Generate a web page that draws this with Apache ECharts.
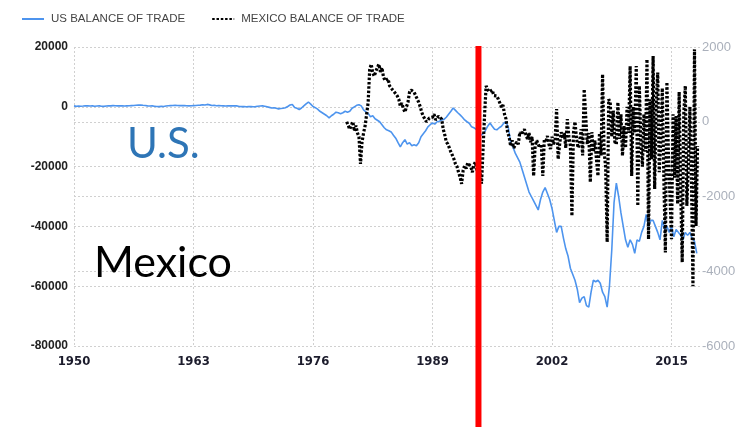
<!DOCTYPE html>
<html>
<head>
<meta charset="utf-8">
<script src="https://cdn.jsdelivr.net/npm/echarts@6/dist/echarts.min.js"></script>
<style>
html,body{margin:0;padding:0;background:#fff;}
#chart{width:746px;height:427px;}
</style>
</head>
<body>
<div id="chart"></div>
<script>
// ---- DATA ----
const xTickLabels = [1950, 1963, 1976, 1989, 2002, 2015];
const leftTicks = [-80000, -60000, -40000, -20000, 0, 20000];
const rightTicks = [-6000, -4000, -2000, 0, 2000];
const seriesNames = ['US BALANCE OF TRADE', 'MEXICO BALANCE OF TRADE'];
const annotationLabels = ['U.S.', 'Mexico'];
const naftaYear = 1994;

// US balance of trade (USD million), quarterly samples starting 1950
const usStartYear = 1950;
const usPerYear = 4;
const usValues = [
  300, 150, 250, 200,        // 1950
  250, 350, 300, 250,        // 1951
  300, 200, 250, 300,        // 1952
  200, 150, 250, 300,        // 1953
  300, 400, 350, 300,        // 1954
  350, 300, 250, 300,        // 1955
  350, 400, 450, 500,        // 1956
  550, 600, 500, 450,        // 1957
  300, 250, 300, 200,        // 1958
  100, 50, 150, 100,         // 1959
  250, 350, 400, 450,        // 1960
  500, 450, 400, 450,        // 1961
  400, 350, 300, 350,        // 1962
  400, 450, 500, 550,        // 1963
  700, 600, 800, 650,        // 1964
  450, 500, 350, 400,        // 1965
  350, 300, 250, 300,        // 1966
  350, 300, 350, 300,        // 1967
  100, 50, 100, 0,           // 1968
  50, 100, 0, 50,            // 1969
  200, 250, 300, 200,        // 1970
  0, -200, -400, -300,       // 1971
  -500, -700, -550, -500,    // 1972
  -300, 100, 600, 800,       // 1973
  -200, -500, -900, -400,    // 1974
  300, 1000, 1600, 900,      // 1975
  100, -300, -800, -1500,    // 1976
  -2000, -2500, -3000, -3700,// 1977
  -3000, -2500, -1800, -2000,// 1978
  -2300, -2000, -1500, -1800,// 1979
  -1500, -500, 0, 500,       // 1980
  700, 300, -1000, -1700,    // 1981
  -2200, -3300, -3000, -4000,// 1982
  -4500, -5000, -6000, -7000,// 1983
  -7700, -8000, -8400, -9500,// 1984
  -10500, -12000, -13400, -12000, // 1985
  -11000, -12500, -12000, -13000, // 1986
  -12700, -13000, -12000, -10000, // 1987
  -9000, -8000, -6700, -6000,     // 1988
  -5400, -5800, -5000, -4800,     // 1989
  -4400, -4200, -3500, -2500,     // 1990
  -1500, -400, -1200, -2000,      // 1991
  -2700, -3500, -4400, -5000,     // 1992
  -5500, -6700, -7000, -7500,     // 1993
  -8400, -9500, -9000, -8000,     // 1994
  -6500, -5400, -6500, -7500,     // 1995
  -7700, -7000, -6500, -5500,     // 1996
  -5000, -7000, -12000, -13400,   // 1997
  -15500, -17000, -18500, -21000, // 1998
  -23500, -26000, -28500, -30000, // 1999
  -31500, -33000, -34500, -31000, // 2000
  -28500, -27000, -29000, -31000, // 2001
  -34000, -38000, -42000, -40000, // 2002
  -40000, -44000, -47500, -50000, // 2003
  -54000, -56000, -58000, -61000, // 2004
  -65500, -64000, -63500, -66500, // 2005
  -67000, -62000, -58000, -58500, // 2006
  -58000, -59000, -62000, -63500, // 2007
  -67000, -60000, -48000, -32000, // 2008
  -25500, -30000, -35500, -40000, // 2009
  -44500, -47000, -44500, -46000, // 2010
  -49000, -44500, -45000, -42000, // 2011
  -40000, -36000, -40000, -38000, // 2012
  -38000, -40000, -42000, -44500, // 2013
  -38000, -41000, -40000, -42000, // 2014
  -40000, -43500, -41000, -42000, // 2015
  -43000, -44500, -42000, -43000, // 2016
  -42000, -44000, -45000, -49000  // 2017
];

// Mexico balance of trade (USD million), bi-monthly samples starting late 1979
const mxStartYear = 1979 + 4 / 6;
const mxPerYear = 6;
const mxValues = [
  0, -100,                                   // 1979
  -200, -150, 0, -250, -100, -300,           // 1980
  -400, -1130, -540, -300, -110, 200,        // 1981
  520, 1400, 1540, 1300, 1220, 1350,         // 1982
  1400, 1540, 1330, 1450, 1200, 1100,        // 1983
  1060, 1150, 960, 1000, 850, 900,           // 1984
  750, 690, 600, 420, 500, 350,              // 1985
  260, 400, 520, 790, 850, 800,              // 1986
  790, 700, 650, 520, 400, 250,              // 1987
  150, 100, 0, -50, 100, 80,                 // 1988
  120, 200, 50, 0, 150, 100,                 // 1989
  70, -200, -350, -540, -600, -700,          // 1990
  -810, -900, -1000, -1130, -1200, -1350,    // 1991
  -1480, -1660, -1300, -1180, -1250, -1100,  // 1992
  -1050, -1200, -1350, -1150, -1080, -1300,  // 1993
  -1450, -1300, -1660, -1620, 200, 960,      // 1994
  870, 800, 790, 850, 700, 750,              // 1995
  690, 600, 550, 390, 450, 200,              // 1996
  70, -280, -400, -650, -500, -700,          // 1997
  -730, -540, -600, -280, -350, -380,        // 1998
  -200, -350, -460, -300, -550, -400,        // 1999
  -1450, -650, -500, -460, -700, -600,       // 2000
  -1450, -460, -550, -380, -600, -730,       // 2001
  -400, -600, -500, 340, -1000, -600,        // 2002
  -280, -450, -300, -700, 70, -400,          // 2003
  -650, -2520, -300, 0, -450, -700,          // 2004
  -540, -200, -900, 870, 150, -600,          // 2005
  -300, -1620, -280, -800, -500, -1000,      // 2006
  -1450, -300, -900, 1270, -800, -1200,      // 2007
  -3220, 600, 520, -400, 300, -540,          // 2008
  -600, 520, -460, 200, -910, -110,          // 2009
  -700, 400, -300, 1490, -1450, 400,         // 2010
  -300, 1490, -2250, 960, -500, -1200,       // 2011
  200, -800, 1670, -3140, 600, -1000,        // 2012
  1760, -1800, 500, 1320, -1350, -500,       // 2013
  900, -1500, -3500, 1060, -910, -2000,      // 2014
  -3140, 200, -1500, 150, -2200, 800,        // 2015
  -1800, -3760, 200, 960, -2250, -1200,      // 2016
  400, -1500, -4400, 1940, -2790, -650       // 2017
];

// ---- CHART ----
const usData = usValues.map((v, i) => [usStartYear + i / usPerYear, v]);
const mxData = mxValues.map((v, i) => [mxStartYear + i / mxPerYear, v]);

const chart = echarts.init(document.getElementById('chart'), null, {renderer: 'canvas'});
const gridDash = {type: [2, 2], color: '#d0d0d0', width: 1};
const plain = v => String(v);

chart.setOption({
  animation: false,
  backgroundColor: '#ffffff',
  legend: {
    left: 16, top: 8,
    itemWidth: 22, itemHeight: 10, itemGap: 26,
    itemStyle: {color: 'transparent', borderColor: 'transparent', borderWidth: 0},
    textStyle: {color: '#444', fontSize: 11.5, fontFamily: 'Liberation Sans, Arial, sans-serif', padding: [0, 0, 0, 2]},
    data: seriesNames
  },
  grid: {left: 74, right: 46, top: 47, bottom: 81},
  xAxis: {
    type: 'value',
    min: xTickLabels[0], max: 2018.1, interval: 13,
    axisLine: {show: false}, axisTick: {show: false},
    splitLine: {show: true, lineStyle: gridDash, showMaxLine: false},
    axisLabel: {
      margin: 9,
      color: '#1c1c2c', fontSize: 13, fontWeight: 'bold',
      fontFamily: "'DejaVu Sans Condensed', sans-serif",
      formatter: v => (xTickLabels.indexOf(Math.round(v * 1000) / 1000) >= 0 ? String(v) : ''),
      showMaxLabel: false
    }
  },
  yAxis: [{
    type: 'value',
    min: leftTicks[0], max: leftTicks[leftTicks.length - 1], interval: 20000,
    axisLine: {show: false}, axisTick: {show: false},
    splitLine: {show: true, lineStyle: gridDash},
    axisLabel: {margin: 6, color: '#222', fontSize: 12, fontWeight: 'bold', formatter: plain,
      fontFamily: 'Liberation Sans, Arial, sans-serif'}
  }, {
    type: 'value',
    min: rightTicks[0], max: rightTicks[rightTicks.length - 1], interval: 2000,
    position: 'right',
    axisLine: {show: false}, axisTick: {show: false},
    splitLine: {show: true, lineStyle: gridDash},
    axisLabel: {margin: 2, color: '#aab0bb', fontSize: 13, formatter: plain,
      fontFamily: 'Liberation Sans, Arial, sans-serif'}
  }],
  series: [{
    name: seriesNames[0],
    type: 'line',
    yAxisIndex: 0,
    data: usData,
    showSymbol: false, symbol: 'none',
    lineStyle: {color: '#4d94ee', width: 1.6},
    itemStyle: {color: '#4d94ee'},
    z: 2
  }, {
    name: seriesNames[1],
    type: 'line',
    yAxisIndex: 1,
    data: mxData,
    showSymbol: false, symbol: 'none',
    lineStyle: {color: '#000', width: 3.2, type: [2.5, 1.8]},
    itemStyle: {color: '#000'},
    z: 3
  }]
});

const naftaX = chart.convertToPixel({xAxisIndex: 0}, naftaYear);
const gridTop = chart.convertToPixel({yAxisIndex: 0}, leftTicks[leftTicks.length - 1]);
chart.setOption({
  graphic: [{
    type: 'rect', z: 100,
    shape: {x: naftaX - 3, y: gridTop - 1, width: 6, height: 427 - gridTop + 1},
    style: {fill: '#ff0000'}
  }, {
    type: 'text', z: 100, x: 127, y: 144,
    style: {text: annotationLabels[0], font: '42px Lato', fill: '#2e75b6', verticalAlign: 'middle'}
  }, {
    type: 'text', z: 100, x: 94, y: 263,
    style: {text: annotationLabels[1], font: '43px Lato', fill: '#000000', verticalAlign: 'middle'}
  }]
});
</script>
</body>
</html>
